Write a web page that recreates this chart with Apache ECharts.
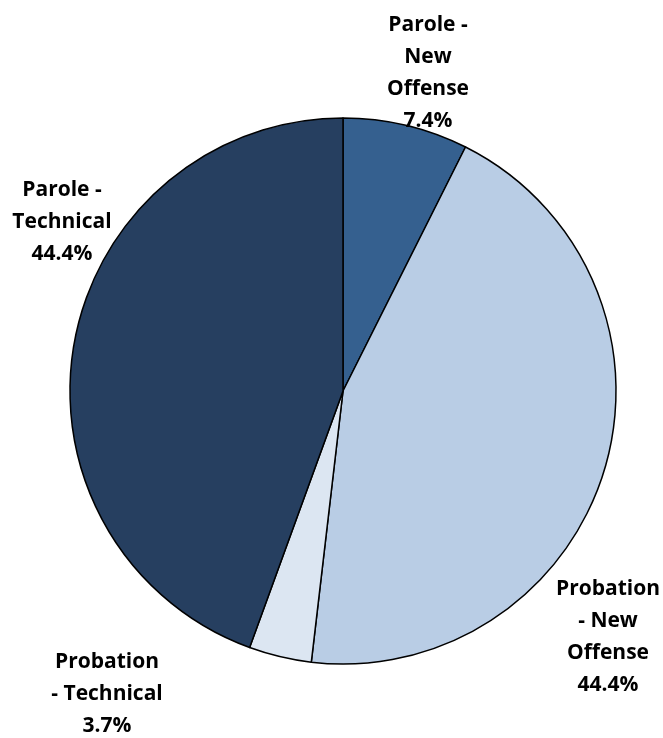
<!DOCTYPE html>
<html>
<head>
<meta charset="utf-8">
<script src="https://cdn.jsdelivr.net/npm/echarts@6/dist/echarts.min.js"></script>
<style>
  html, body { margin: 0; padding: 0; background: #fff; }
  #chart { width: 663px; height: 738px; }
</style>
</head>
<body>
<div id="chart"></div>
<script>
// Revocation types, clockwise from 12 o'clock
const categories = [
  'Parole -\nNew\nOffense',
  'Probation\n- New\nOffense',
  'Probation\n- Technical',
  'Parole -\nTechnical'
];
const counts = [2, 12, 1, 12];
const sliceColors = ['#35608F', '#B9CDE5', '#DCE6F2', '#263F60'];

// label anchor points (centre of each text block)
const labelAnchors = [
  [428, 73],
  [608, 637],
  [107, 694],
  [62, 222]
];

const total = counts.reduce((a, b) => a + b, 0);

const chart = echarts.init(document.getElementById('chart'));
chart.setOption({
  animation: false,
  series: [{
    type: 'pie',
    center: [343, 391],
    radius: 273,
    startAngle: 90,
    clockwise: true,
    avoidLabelOverlap: false,
    data: categories.map((name, i) => ({
      name: name,
      value: counts[i],
      itemStyle: { color: sliceColors[i] }
    })),
    itemStyle: { borderColor: '#000', borderWidth: 1.5 },
    label: {
      show: true,
      position: 'outside',
      // plain (non-balanced) rounding of each share
      formatter: p => p.name + '\n' + (p.value / total * 100).toFixed(1) + '%',
      fontFamily: 'Open Sans',
      fontWeight: 'bold',
      fontSize: 21,
      lineHeight: 32,
      color: '#000',
      align: 'center',
      overflow: 'none'
    },
    labelLine: { show: false },
    labelLayout: function (p) {
      const a = labelAnchors[p.dataIndex];
      return { x: a[0], y: a[1], align: 'center', verticalAlign: 'middle', hideOverlap: false };
    },
    emphasis: { disabled: true }
  }]
});
</script>
</body>
</html>
